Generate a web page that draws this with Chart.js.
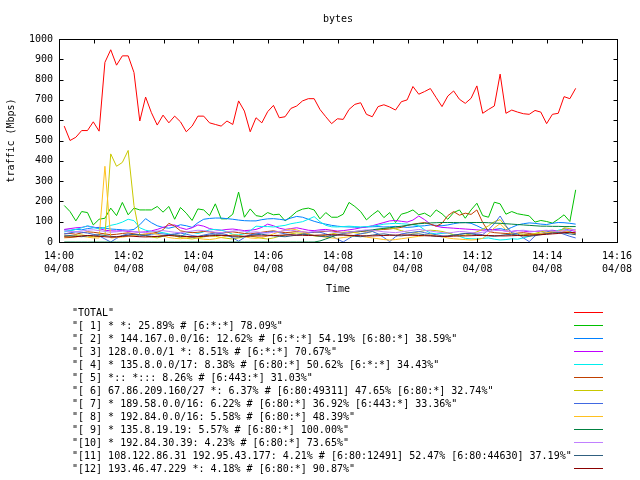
<!DOCTYPE html>
<html>
<head>
<meta charset="utf-8">
<script src="https://cdn.jsdelivr.net/npm/chart.js"></script>
<style>
  html, body { margin: 0; padding: 0; background: #fff; }
  canvas { display: block; }
</style>
</head>
<body>
<canvas id="chart" width="640" height="480"></canvas>
<script>
// seconds after 14:00:00, one sample every 10 s
const times = [
    9, 19, 29, 39, 49, 59, 69, 79, 89, 99,
    109, 119, 129, 139, 149, 159, 169, 179, 189, 199,
    209, 219, 229, 239, 249, 259, 269, 279, 289, 299,
    309, 319, 329, 339, 349, 359, 369, 379, 389, 399,
    409, 419, 429, 439, 449, 459, 469, 479, 489, 499,
    509, 519, 529, 539, 549, 559, 569, 579, 589, 599,
    609, 619, 629, 639, 649, 659, 669, 679, 689, 699,
    709, 719, 729, 739, 749, 759, 769, 779, 789, 799,
    809, 819, 829, 839, 849, 859, 869, 879, 889,
];

const xTickLabels = ['14:00', '14:02', '14:04', '14:06', '14:08', '14:10', '14:12', '14:14', '14:16'];
const dateLabel = '04/08';

const total = [
    571, 500, 516, 549, 549, 592, 546, 885, 947, 871,
    917, 917, 835, 596, 714, 637, 576, 625, 587, 620,
    592, 543, 571, 620, 620, 587, 579, 571, 596, 579,
    695, 645, 543, 612, 587, 642, 673, 612, 617, 658,
    670, 695, 706, 706, 653, 617, 583, 607, 604, 653,
    678, 686, 629, 617, 667, 676, 665, 650, 691, 700,
    766, 728, 741, 756, 711, 667, 719, 744, 703, 683,
    708, 769, 634, 653, 670, 827, 634, 650, 640, 632,
    629, 648, 640, 583, 629, 634, 716, 706, 757,
];
const s1 = [
    180, 150, 104, 150, 145, 84, 112, 117, 167, 130,
    195, 134, 167, 158, 158, 158, 175, 147, 175, 112,
    170, 142, 106, 163, 158, 130, 188, 114, 114, 137,
    246, 122, 163, 130, 125, 145, 134, 137, 104, 125,
    150, 162, 167, 158, 114, 145, 122, 122, 137, 195,
    175, 150, 109, 134, 155, 120, 145, 96, 137, 145,
    158, 134, 142, 125, 158, 139, 112, 145, 158, 117,
    158, 191, 130, 122, 196, 188, 137, 150, 139, 134,
    129, 98, 106, 101, 93, 112, 134, 101, 257,
];
const s2 = [
    60, 58, 62, 60, 66, 70, 72, 68, 64, 62,
    60, 58, 62, 85, 115, 95, 80, 72, 68, 75,
    85, 80, 72, 95, 112, 116, 118, 118, 115, 112,
    108, 105, 104, 104, 110, 114, 115, 112, 108, 118,
    126, 122, 112, 102, 94, 88, 82, 78, 75, 74,
    73, 72, 74, 75, 76, 74, 75, 77, 75, 72,
    74, 78, 80, 84, 82, 80, 84, 90, 95, 96,
    92, 80, 66, 60, 62, 66, 60, 72, 84, 90,
    94, 92, 88, 86, 92, 96, 95, 92, 88,
];
const s3 = [
    62, 66, 70, 72, 78, 74, 66, 58, 55, 54,
    56, 52, 50, 48, 50, 55, 62, 72, 82, 84,
    70, 62, 70, 84, 78, 66, 60, 58, 62, 64,
    60, 56, 58, 62, 72, 88, 80, 68, 62, 66,
    70, 64, 58, 56, 60, 62, 58, 54, 56, 60,
    64, 70, 74, 80, 88, 96, 104, 106, 102, 98,
    108, 128, 110, 88, 78, 72, 70, 68, 66, 64,
    62, 60, 58, 60, 62, 58, 54, 52, 56, 54,
    50, 52, 54, 56, 58, 54, 66, 58, 52,
];
const s4 = [
    50, 55, 62, 70, 80, 72, 64, 72, 82, 88,
    98, 112, 105, 70, 58, 52, 50, 46, 40, 32,
    24, 45, 48, 42, 50, 60, 62, 58, 50, 38,
    35, 40, 55, 78, 76, 76, 74, 78, 82, 90,
    95, 100, 112, 125, 100, 82, 75, 74, 76, 78,
    76, 74, 76, 78, 82, 88, 90, 92, 90, 88,
    85, 80, 60, 44, 40, 42, 44, 36, 28, 18,
    16, 15, 18, 20, 14, 10, 12, 16, 14, 20,
    28, 40, 42, 42, 46, 58, 64, 52, 40,
];
const s5 = [
    40, 42, 38, 45, 50, 48, 44, 40, 36, 38,
    42, 45, 40, 36, 38, 42, 48, 60, 92, 78,
    55, 50, 46, 48, 52, 50, 46, 44, 48, 50,
    46, 42, 40, 44, 48, 52, 55, 50, 46, 48,
    52, 50, 46, 48, 50, 52, 54, 50, 46, 44,
    48, 52, 54, 56, 60, 62, 64, 68, 72, 82,
    88, 92, 96, 88, 78, 92, 130, 150, 132, 142,
    136, 158, 96, 52, 46, 44, 42, 40, 44, 46,
    42, 38, 40, 44, 48, 46, 50, 48, 45,
];
const s6 = [
    30, 28, 32, 35, 30, 26, 28, 30, 434, 373,
    392, 451, 180, 35, 30, 25, 20, 28, 35, 30,
    22, 18, 15, 20, 25, 30, 28, 22, 18, 15,
    20, 26, 30, 24, 18, 15, 20, 28, 35, 40,
    45, 42, 38, 30, 28, 34, 40, 45, 48, 50,
    46, 42, 44, 52, 60, 66, 70, 64, 56, 48,
    44, 50, 56, 58, 56, 52, 45, 36, 30, 34,
    40, 50, 62, 80, 100, 110, 75, 45, 40, 38,
    36, 42, 50, 56, 52, 44, 70, 66, 58,
];
const s7 = [
    40, 45, 50, 48, 44, 38, 30, 15, 0, 18,
    32, 40, 36, 30, 34, 38, 42, 40, 36, 40,
    44, 38, 32, 28, 34, 40, 44, 42, 36, 20,
    4, 22, 36, 40, 44, 48, 52, 46, 40, 36,
    32, 38, 44, 50, 48, 40, 30, 14, 0, 18,
    34, 40, 46, 52, 40, 22, 2, 26, 40, 44,
    48, 52, 46, 40, 36, 30, 28, 32, 38, 42,
    44, 40, 36, 60, 90, 128, 80, 45, 40, 20,
    2, 30, 42, 50, 55, 48, 38, 28, 20,
];
const s8 = [
    20, 22, 25, 28, 24, 20, 20, 373, 20, 22,
    24, 28, 32, 36, 40, 45, 38, 30, 22, 18,
    16, 20, 24, 18, 14, 12, 16, 22, 30, 36,
    32, 26, 20, 18, 22, 30, 40, 50, 58, 64,
    60, 50, 40, 32, 28, 24, 20, 18, 22, 26,
    30, 28, 24, 20, 16, 12, 10, 12, 16, 20,
    24, 28, 32, 36, 30, 26, 20, 16, 14, 12,
    10, 12, 18, 40, 70, 90, 60, 40, 32, 30,
    34, 38, 42, 46, 50, 54, 60, 48, 36,
];
const s9 = [
    0, 0, 0, 0, 0, 0, 0, 0, 0, 0,
    0, 0, 0, 0, 0, 0, 0, 0, 0, 0,
    0, 0, 0, 0, 0, 0, 0, 0, 0, 0,
    0, 0, 0, 0, 0, 0, 0, 0, 0, 0,
    0, 0, 0, 0, 5, 15, 25, 35, 42, 48,
    52, 54, 56, 60, 64, 67, 70, 74, 78, 82,
    86, 90, 92, 94, 95, 96, 96, 96, 95, 95,
    96, 96, 96, 95, 93, 92, 90, 88, 86, 84,
    82, 80, 78, 78, 77, 77, 76, 76, 76,
];
const s10 = [
    55, 52, 50, 54, 58, 60, 56, 52, 48, 50,
    54, 56, 52, 48, 46, 50, 54, 56, 52, 48,
    46, 50, 54, 58, 56, 52, 48, 46, 50, 54,
    56, 52, 48, 50, 46, 44, 48, 52, 56, 58,
    54, 50, 48, 52, 56, 54, 50, 46, 44, 48,
    52, 56, 60, 58, 54, 50, 48, 46, 50, 54,
    58, 62, 58, 54, 50, 46, 44, 48, 52, 50,
    46, 44, 48, 52, 56, 58, 54, 52, 56, 58,
    54, 52, 56, 58, 54, 52, 56, 60, 62,
];
const s11 = [
    30, 32, 28, 26, 30, 34, 36, 32, 28, 26,
    30, 34, 38, 36, 32, 28, 26, 30, 34, 36,
    32, 28, 24, 26, 30, 34, 36, 34, 30, 26,
    24, 28, 32, 36, 38, 34, 30, 28, 26, 30,
    34, 38, 36, 32, 28, 26, 30, 34, 36, 32,
    28, 26, 30, 34, 38, 40, 36, 32, 30, 34,
    38, 40, 36, 32, 28, 26, 30, 34, 38, 42,
    40, 36, 32, 30, 28, 32, 36, 38, 34, 30,
    28, 32, 36, 40, 44, 46, 44, 40, 36,
];
const s12 = [
    25, 24, 26, 30, 32, 30, 28, 26, 24, 25,
    28, 30, 28, 26, 25, 26, 28, 30, 32, 30,
    28, 27, 26, 27, 28, 30, 32, 33, 32, 30,
    29, 28, 29, 30, 30, 31, 32, 33, 34, 35,
    34, 33, 32, 33, 34, 35, 36, 35, 34, 33,
    32, 31, 30, 30, 31, 32, 33, 34, 35, 34,
    33, 32, 31, 30, 29, 28, 28, 29, 30, 30,
    31, 32, 33, 32, 31, 30, 30, 31, 32, 33,
    34, 35, 36, 38, 40, 42, 46, 48, 44,
];

const seriesLabels = [
    'TOTAL',
    '[ 1] * *: 25.89% # [6:*:*] 78.09%',
    '[ 2] * 144.167.0.0/16: 12.62% # [6:*:*] 54.19% [6:80:*] 38.59%',
    '[ 3] 128.0.0.0/1 *: 8.51% # [6:*:*] 70.67%',
    '[ 4] * 135.8.0.0/17: 8.38% # [6:80:*] 50.62% [6:*:*] 34.43%',
    '[ 5] *:: *::: 8.26% # [6:443:*] 31.03%',
    '[ 6] 67.86.209.160/27 *: 6.37% # [6:80:49311] 47.65% [6:80:*] 32.74%',
    '[ 7] * 189.58.0.0/16: 6.22% # [6:80:*] 36.92% [6:443:*] 33.36%',
    '[ 8] * 192.84.0.0/16: 5.58% # [6:80:*] 48.39%',
    '[ 9] * 135.8.19.19: 5.57% # [6:80:*] 100.00%',
    '[10] * 192.84.30.39: 4.23% # [6:80:*] 73.65%',
    '[11] 108.122.86.31 192.95.43.177: 4.21% # [6:80:12491] 52.47% [6:80:44630] 37.19%',
    '[12] 193.46.47.229 *: 4.18% # [6:80:*] 90.87%',
];
const series = [total, s1, s2, s3, s4, s5, s6, s7, s8, s9, s10, s11, s12];
const colors = [
    '#ff0000', '#00c000', '#0080ff', '#c000ff', '#00eeee', '#c04000', '#c8c800',
    '#4169e1', '#ffc020', '#008040', '#c080ff', '#306080', '#8b0000',
];

const mono = 'DejaVu Sans Mono';
const font = { family: mono, size: 10, lineHeight: 1.3 };

// gnuplot look: full frame, inward ticks, title over the plot, key below
const gnuplotFrame = {
    id: 'gnuplotFrame',
    afterDraw(chart) {
        const { ctx, chartArea: a, scales: { x, y } } = chart;
        const left = Math.round(a.left) + 0.5;
        const top = Math.round(a.top) + 0.5;
        const right = left + Math.round(a.width);
        const bottom = top + Math.round(a.height);
        const tl = 4;
        ctx.save();
        ctx.strokeStyle = '#000';
        ctx.lineWidth = 1;
        ctx.beginPath();
        for (let v = 60; v < 960; v += 60) {
            const px = Math.round(x.getPixelForValue(v)) + 0.5;
            ctx.moveTo(px, bottom); ctx.lineTo(px, bottom - tl);
            ctx.moveTo(px, top); ctx.lineTo(px, top + tl);
        }
        for (let v = 100; v < 1000; v += 100) {
            const py = Math.round(y.getPixelForValue(v)) + 0.5;
            ctx.moveTo(left, py); ctx.lineTo(left + tl, py);
            ctx.moveTo(right, py); ctx.lineTo(right - tl, py);
        }
        ctx.stroke();
        ctx.strokeRect(left, top, right - left, bottom - top);

        ctx.fillStyle = '#000';
        ctx.font = `10px "${mono}"`;
        ctx.textAlign = 'center';
        ctx.textBaseline = 'middle';
        ctx.fillText('bytes', (a.left + a.right) / 2, 19);

        ctx.textAlign = 'left';
        chart.data.datasets.forEach((ds, k) => {
            const ky = 312.5 + 13 * k;
            ctx.fillStyle = '#000';
            ctx.fillText('"' + ds.label + '"', 72, ky + 0.5);
            ctx.strokeStyle = ds.borderColor;
            ctx.beginPath();
            ctx.moveTo(574, ky);
            ctx.lineTo(603, ky);
            ctx.stroke();
        });
        ctx.restore();
    },
};

new Chart(document.getElementById('chart'), {
    type: 'line',
    data: {
        datasets: series.map((vals, k) => ({
            label: seriesLabels[k],
            data: vals.map((v, i) => ({ x: times[i], y: v })),
            borderColor: colors[k],
            backgroundColor: colors[k],
            borderWidth: 1,
            pointRadius: 0,
            tension: 0,
            fill: false,
            order: series.length - 1 - k,
        })),
    },
    options: {
        responsive: false,
        animation: false,
        devicePixelRatio: 1,
        events: [],
        layout: { padding: { top: 39, right: 18, bottom: 184, left: 0 } },
        plugins: {
            legend: { display: false },
            tooltip: { enabled: false },
        },
        scales: {
            x: {
                type: 'linear',
                min: 0,
                max: 960,
                grid: { display: false, drawTicks: false },
                border: { display: false },
                ticks: {
                    stepSize: 60,
                    autoSkip: false,
                    maxRotation: 0,
                    padding: 8,
                    color: '#000',
                    font,
                    callback: (v) => (v % 120 === 0 ? [xTickLabels[v / 120], dateLabel] : ''),
                },
                title: { display: true, text: 'Time', color: '#000', font, padding: 0 },
                afterFit: (scale) => { scale.height = 54; },
            },
            y: {
                min: 0,
                max: 1000,
                grid: { display: false, drawTicks: false },
                border: { display: false },
                ticks: {
                    stepSize: 100,
                    padding: 6,
                    color: '#000',
                    font,
                    callback: (v) => String(v),
                },
                title: {
                    display: true,
                    text: 'traffic (Mbps)',
                    color: '#000',
                    font,
                    padding: { top: 5, bottom: 0 },
                },
                afterFit: (scale) => { scale.width = 59; },
            },
        },
    },
    plugins: [gnuplotFrame],
});
</script>
</body>
</html>
